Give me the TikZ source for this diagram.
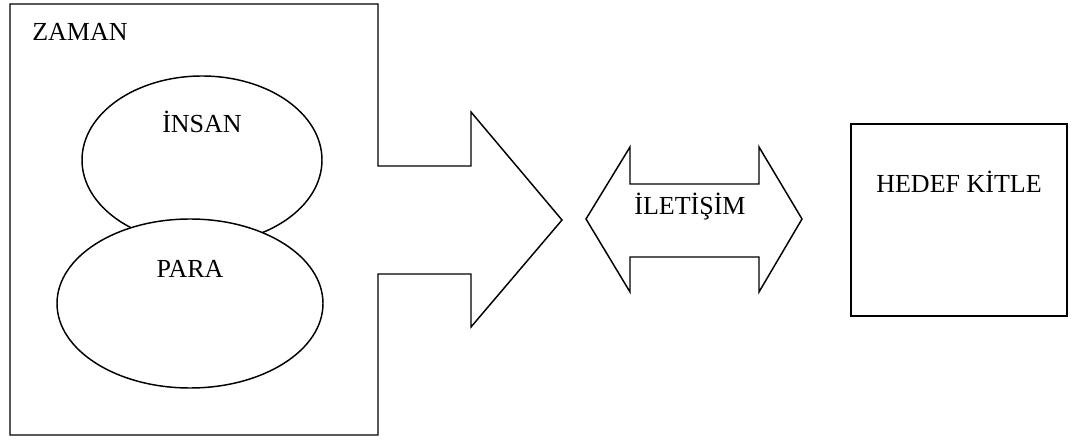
\documentclass[tikz,border=0pt]{standalone}
\usepackage{fontspec}
\setmainfont{Liberation Serif}
\usetikzlibrary{shapes.geometric}
\begin{document}
\begin{tikzpicture}[x=0.75pt,y=-0.75pt,
  outline/.style={draw=black,line width=1.1pt,line join=miter},
  lbl/.style={inner sep=0pt,anchor=base,font=\fontsize{19.5pt}{22pt}\selectfont},
  oval/.style={ellipse,draw=black,fill=white,line width=1.1pt,inner sep=0pt}]
\useasboundingbox (0,0) rectangle (1084,441);
% ZAMAN frame joined to the big arrow
\draw[outline] (378,166) -- (378,4) -- (10,4) -- (10,435) -- (378,435) -- (378,274)
  -- (471,274) -- (471,327) -- (562,220) -- (471,112) -- (471,166) -- cycle;
\node[lbl,anchor=base west] (zaman) at (32,41) {ZAMAN};
% ellipses
\node[oval,minimum width=180pt,minimum height=126pt] (insanE) at (202,160) {};
\node[lbl] (insan) at (202,133) {İNSAN};
\node[oval,minimum width=199.5pt,minimum height=126.75pt] (paraE) at (190,303.5) {};
\node[lbl] (para) at (190,278) {PARA};
% double arrow
\draw[outline] (586,219) -- (630,147) -- (630,184) -- (759,184) -- (759,147) -- (802,219)
  -- (759,292) -- (759,257) -- (630,257) -- (630,292) -- cycle;
\node[lbl] (iletisim) at (690,215) {İLETİŞİM};
% target box
\node[draw=black,line width=1.1pt,minimum width=162pt,minimum height=144pt,inner sep=0pt] (hedefBox) at (959,220) {};
\node[lbl] (hedef) at (959,193) {HEDEF KİTLE};
\end{tikzpicture}
\end{document}
